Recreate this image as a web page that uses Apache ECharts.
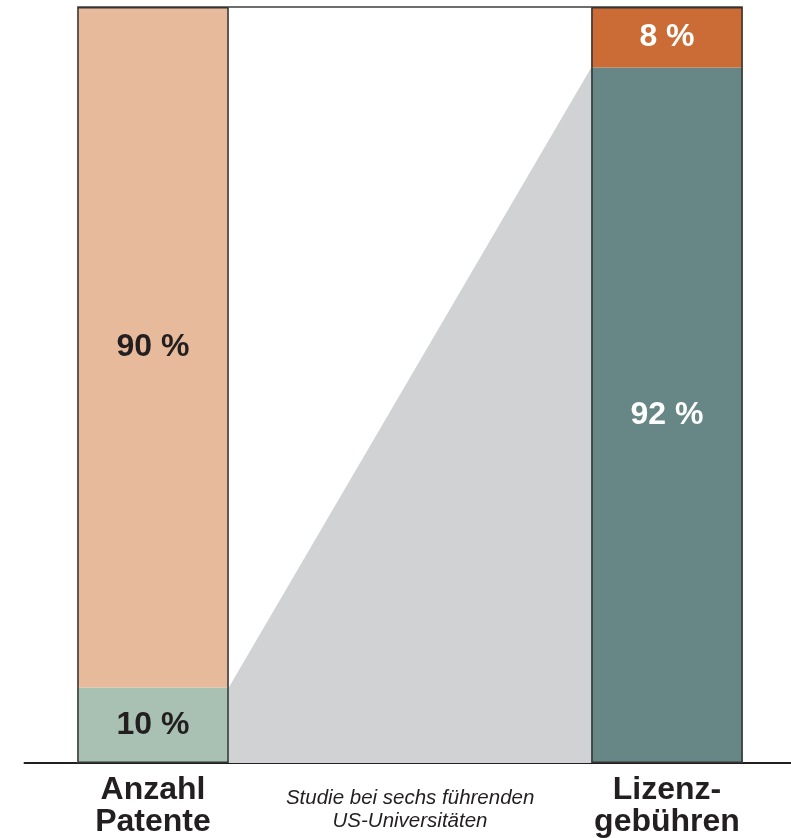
<!DOCTYPE html>
<html>
<head>
<meta charset="utf-8">
<script src="https://cdn.jsdelivr.net/npm/echarts@6/dist/echarts.min.js"></script>
<style>html,body{margin:0;padding:0;background:#fff}#c{width:791px;height:838px}</style>
</head>
<body>
<div id="c"></div>
<script>
const categories = ['Anzahl\nPatente', 'Studie bei sechs führenden\nUS-Universitäten', 'Lizenz-\ngebühren'];
const lowerShare = [10, null, 92];
const upperShare = [90, null, 8];
const lowerColors = ['#a8c1b2', null, '#668785'];
const upperColors = ['#e8ba9c', null, '#cb6c36'];
const labelColors = ['#231f20', null, '#ffffff'];

const BAR_W = 151.5;
const FONT = '"Liberation Sans", Arial, sans-serif';

function items(vals, colors) {
  return vals.map((v, i) => v == null ? '-' : {
    value: v,
    itemStyle: { color: colors[i] },
    label: { color: labelColors[i] }
  });
}

const totals = lowerShare.map((v, i) => v == null ? '-' : v + upperShare[i]);

const chart = echarts.init(document.getElementById('c'));
chart.setOption({
  animation: false,
  grid: { left: 24.5, width: 771, top: 7, bottom: 75, outerBoundsMode: 'none', containLabel: false },
  xAxis: {
    type: 'category',
    data: categories,
    axisTick: { show: false },
    axisLine: { lineStyle: { color: '#231f20', width: 2 } },
    axisLabel: {
      interval: 0,
      margin: 11,
      formatter: function (val, idx) {
        const lines = val.split('\n');
        if (idx === 1) return '{sp| }{m1|' + lines[0] + '}\n{m2|' + lines[1] + '}';
        return '{b|' + lines[0] + '}\n{b|' + lines[1] + '}';
      },
      rich: {
        b: { fontFamily: FONT, fontWeight: 'bold', fontSize: 32, lineHeight: 32, color: '#231f20' },
        sp: { fontFamily: FONT, fontSize: 1, lineHeight: 34 },
        m1: { fontFamily: FONT, fontStyle: 'italic', fontSize: 20.5, lineHeight: 22, verticalAlign: 'bottom', color: '#231f20' },
        m2: { fontFamily: FONT, fontStyle: 'italic', fontSize: 20.5, lineHeight: 26, color: '#231f20' }
      }
    }
  },
  yAxis: { type: 'value', min: 0, max: 100, show: false },
  series: [
    {
      type: 'custom',
      z: 1,
      encode: { x: 0, y: 1 },
      data: [[0, lowerShare[0], 2, lowerShare[2]]],
      renderItem: function (params, api) {
        const half = BAR_W / 2;
        const p0 = api.coord([api.value(0), api.value(1)]);
        const p1 = api.coord([api.value(2), api.value(3)]);
        const b0 = api.coord([api.value(0), 0]);
        const t0 = api.coord([api.value(0), 100]);
        const t1 = api.coord([api.value(2), 100]);
        return {
          type: 'group',
          children: [
            {
              type: 'polygon',
              shape: { points: [[p0[0] + half, b0[1]], [p0[0] + half, p0[1]], [p1[0] - half, p1[1]], [p1[0] - half, b0[1]]] },
              style: { fill: '#d1d2d4' }
            },
            {
              type: 'line',
              shape: { x1: t0[0] - half, y1: t0[1], x2: t1[0] + half, y2: t1[1] },
              style: { stroke: '#6d6d6d', lineWidth: 2 }
            }
          ]
        };
      }
    },
    {
      type: 'bar', stack: 's', barWidth: BAR_W, z: 2,
      data: items(lowerShare, lowerColors),
      label: { show: true, position: 'inside', formatter: '{c} %', fontFamily: FONT, fontWeight: 'bold', fontSize: 32 }
    },
    {
      type: 'bar', stack: 's', barWidth: BAR_W, z: 2,
      data: items(upperShare, upperColors),
      label: { show: true, position: 'inside', formatter: '{c} %', fontFamily: FONT, fontWeight: 'bold', fontSize: 32 }
    },
    {
      type: 'bar', barWidth: BAR_W, barGap: '-100%', z: 3, silent: true,
      data: totals,
      itemStyle: { color: 'rgba(0,0,0,0)', borderColor: '#333333', borderWidth: 1.5 },
      label: { show: false }
    }
  ]
});
</script>
</body>
</html>
